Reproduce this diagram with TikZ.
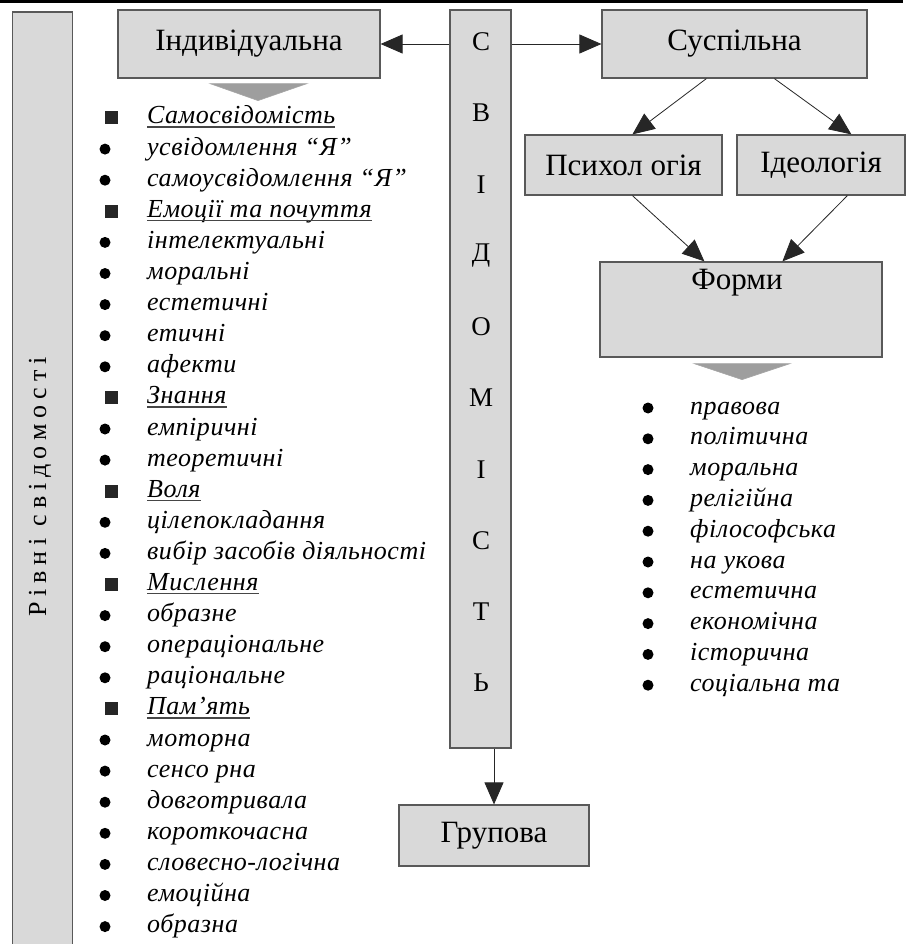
\documentclass[tikz,border=0pt]{standalone}
\usepackage{fontspec}
\setmainfont{Liberation Serif}
\newfontfamily\listfont[LetterSpace=2]{Liberation Serif}
\newfontfamily\vertfont[LetterSpace=22]{Liberation Serif}
\usetikzlibrary{arrows.meta,calc}
\definecolor{boxfill}{gray}{0.85}
\definecolor{boxline}{gray}{0.35}
\definecolor{trifill}{gray}{0.62}
\begin{document}
\begin{tikzpicture}[x=1pt,y=-1pt,
 box/.style={draw=boxline, line width=1.2pt, fill=boxfill, inner sep=0pt},
 lbl/.style={font=\fontsize{31}{31}\selectfont, inner sep=0pt},
 barletter/.style={font=\fontsize{27}{27}\selectfont, inner sep=0pt},
 arr/.style={-{Triangle[length=22pt,width=19pt]}, line width=0.8pt, black!85},
 item/.style={anchor=base west, font=\listfont\itshape\fontsize{26}{26}\selectfont, inner sep=0pt},
 dot/.style={circle, fill=black, inner sep=0pt, minimum size=11pt},
 sq/.style={fill=black!85, inner sep=0pt, minimum size=13pt},
 tri/.style={fill=trifill, draw=gray!70, line width=0.6pt},
 uline/.style={draw=gray!55!black, line width=1.2pt}
]
\useasboundingbox (0,0) rectangle (909,944);
\fill[white] (0,0) rectangle (909,944);
% top rule
\draw[line width=3pt] (0,1.5) -- (903,1.5);
% left bar
\node[box, minimum width=60pt, minimum height=936pt] (lbar) at (42.5,480) {};
\node[rotate=90, font=\vertfont\fontsize{26}{26}\selectfont, inner sep=0pt] (vlab) at (40,487) {Рівні свідомості};
% central bar
\node[box, minimum width=61pt, minimum height=738pt] (bar) at (480.5,379) {};
\foreach \l [count=\j] in {С,В,І,Д,О,М,І,С,Т,Ь}{
  \pgfmathsetmacro\yy{42+(\j-1)*71.2}
  \node[barletter] (B\j) at (481,\yy) {\l};
}
% boxes
\node[box, minimum width=262pt, minimum height=68pt] (ind) at (249,44) {};
\node[lbl] (indl) at (ind.center) {Індивідуальна};
\node[box, minimum width=265pt, minimum height=68pt] (sus) at (734.5,44) {};
\node[lbl] (susl) at (sus.center) {Суспільна};
\node[box, minimum width=197pt, minimum height=60pt] (psy) at (623.5,165) {};
\node[lbl] (psyl) at (psy.center) {Психол огія};
\node[box, minimum width=168pt, minimum height=60pt] (ideo) at (821,165) {};
\node[lbl] (ideol) at (ideo.center) {Ідеологія};
\node[box, minimum width=282pt, minimum height=95pt] (forms) at (741,309.5) {};
\node[lbl] (formsl) at (737,283) {Форми};
\node[box, minimum width=190pt, minimum height=61pt] (grp) at (494,835.5) {};
\node[lbl] (grpl) at (grp.center) {Групова};
% arrows
\draw[arr] (ind.east -| bar.west) -- (ind.east);
\draw[arr] (sus.west -| bar.east) -- (sus.west);
\draw[arr] ($(sus.south west)+(105,0)$) -- ($(psy.north west)+(108,0)$);
\draw[arr] ($(sus.south west)+(173,0)$) -- ($(ideo.north west)+(115,0)$);
\draw[arr] ($(psy.south west)+(108,0)$) -- ($(forms.north west)+(105,0)$);
\draw[arr] ($(ideo.south west)+(111,0)$) -- ($(forms.north west)+(183,0)$);
\draw[arr] (grp.north |- bar.south) -- (grp.north);
% triangles
\draw[tri] ($(ind.south)+(-39,5)$) -- ($(ind.south)+(58,5)$) -- ($(ind.south)+(9,22)$) -- cycle;
\draw[tri] ($(forms.south)+(-47,6)$) -- ($(forms.south)+(49,6)$) -- ($(forms.south)+(1,22)$) -- cycle;
% left list
\foreach \k/\t [count=\i] in {h/Самосвідомість,b/усвідомлення “Я”,b/самоусвідомлення “Я”,h/Емоції та почуття,b/інтелектуальні,b/моральні,b/естетичні,b/етичні,b/афекти,h/Знання,b/емпіричні,b/теоретичні,h/Воля,b/цілепокладання,b/вибір засобів діяльності,h/Мислення,b/образне,b/операціональне,b/раціональне,h/Пам’ять,b/моторна,b/сенсо рна,b/довготривала,b/короткочасна,b/словесно-логічна,b/емоційна,b/образна}{
  \pgfmathsetmacro\yy{118+(\i-1)*31.1}
  \pgfmathsetmacro\yb{\yy+6}
  \node[item] (L\i) at (147,\yb) {\t};
  \if\k h
    \node[sq] (M\i) at (111,\yy) {};
    \draw[uline] ($(L\i.base west)+(0,3)$) -- ($(L\i.base east)+(0,3)$);
  \else
    \node[dot] (M\i) at (105,\yy) {};
  \fi
}
% forms list
\foreach \t [count=\i] in {правова,політична,моральна,релігійна,філософська,на укова,естетична,економічна,історична,соціальна та}{
  \pgfmathsetmacro\yy{408+(\i-1)*30.8}
  \pgfmathsetmacro\yb{\yy+6}
  \node[dot] (F\i) at (648,\yy) {};
  \node[item] (R\i) at (690,\yb) {\t};
}
\end{tikzpicture}
\end{document}
